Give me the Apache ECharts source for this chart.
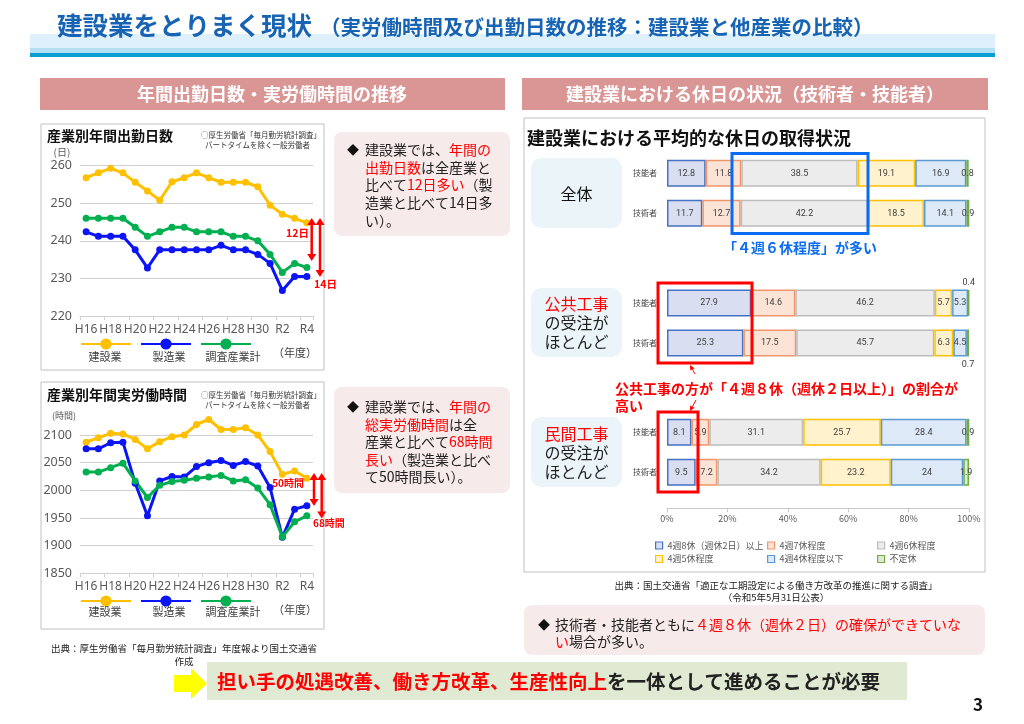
<!DOCTYPE html>
<html><head><meta charset="utf-8">
<script src="https://cdn.jsdelivr.net/npm/echarts@6/dist/echarts.min.js"></script>
<style>html,body{margin:0;padding:0;background:#fff}#c{width:1024px;height:724px}</style>
</head><body><div id="c"></div>
<script>
// ---------- data ----------
const years = ['H16','H17','H18','H19','H20','H21','H22','H23','H24','H25','H26','H27','H28','H29','H30','R1','R2','R3','R4'];
const lineNames = ['建設業','製造業','調査産業計'];
const daysConstruction = [256.8,258.1,259.3,258.1,255.6,253.3,250.8,255.7,256.8,258.1,256.8,255.6,255.6,255.6,254.4,249.5,247.1,246.0,244.8];
const daysManufacturing = [242.4,241.2,241.2,241.2,237.6,232.8,237.6,237.6,237.6,237.6,237.6,238.8,237.6,237.6,236.4,234.0,226.8,230.5,230.5];
const daysAll = [246.0,246.0,246.0,246.0,243.6,241.2,242.4,243.6,243.6,242.4,242.4,242.4,241.2,241.2,240.0,236.4,231.6,234.0,232.9];
const hoursConstruction = [2087,2095,2103,2102,2092,2075,2088,2097,2100,2119,2128,2110,2110,2113,2100,2070,2029,2035,2022];
const hoursManufacturing = [2075,2075,2086,2087,2013,1954,2017,2025,2024,2043,2050,2054,2045,2052,2044,2005,1915,1966,1972];
const hoursAll = [2033,2033,2041,2049,2017,1987,2009,2016,2018,2022,2024,2027,2017,2019,2004,1974,1916,1943,1954];

const holidayCategories = ['4週8休（週休2日）以上','4週7休程度','4週6休程度','4週5休程度','4週4休程度以下','不定休'];
const holidayRows = ['技能者','技術者'];
const allGinou = [12.8,11.8,38.5,19.1,16.9,0.8];
const allGijutsu = [11.7,12.7,42.2,18.5,14.1,0.9];
const publicGinou = [27.9,14.6,46.2,5.7,5.3,0.4];
const publicGijutsu = [25.3,17.5,45.7,6.3,4.5,0.7];
const privateGinou = [8.1,5.9,31.1,25.7,28.4,0.9];
const privateGijutsu = [9.5,7.2,34.2,23.2,24,1.9];

// ---------- styles ----------
const FF = '"Noto Sans CJK JP", "Noto Sans", sans-serif';
const lineColors = ['#ffc000','#0a14f5','#00b050'];
const segFill = ['#d9dff0','#fbe3d6','#ececec','#fff2cc','#dde9f6','#dcecd0'];
const segBorder = ['#4472c4','#f0956a','#bcbcbc','#ffc000','#5b9bd5','#70ad47'];

const chart = echarts.init(document.getElementById('c'), null, {renderer:'canvas'});

function lineSeries(i, data, axis){
  return {type:'line', name: lineNames[i], data, xAxisIndex: axis, yAxisIndex: axis,
    symbol:'circle', symbolSize:7, showSymbol:true, clip:false,
    lineStyle:{color: lineColors[i], width:3}, itemStyle:{color: lineColors[i]}, z:3, animation:false};
}
const series = [
  lineSeries(0, daysConstruction, 0), lineSeries(1, daysManufacturing, 0), lineSeries(2, daysAll, 0),
  lineSeries(0, hoursConstruction, 1), lineSeries(1, hoursManufacturing, 1), lineSeries(2, hoursAll, 1)
];
const groups = [[allGinou, allGijutsu],[publicGinou, publicGijutsu],[privateGinou, privateGijutsu]];
groups.forEach((g, gi) => {
  holidayCategories.forEach((name, s) => {
    let data = [g[0][s], g[1][s]];
    if (gi === 1 && s === 5) {
      data = [{value: g[0][s], label:{position:'top', distance:2}}, {value: g[1][s], label:{position:'bottom', distance:4}}];
    }
    series.push({type:'bar', name, stack:'g'+gi, xAxisIndex: gi+2, yAxisIndex: gi+2, barWidth:27, data,
      itemStyle:{color: segFill[s], borderColor: segBorder[s], borderWidth:1.5},
      label:{show:true, position:'inside', color:'#404040', fontSize:9, fontFamily:'Roboto, sans-serif', textBorderWidth:0},
      emphasis:{disabled:true}, animation:false});
  });
});

const catX = (gi, margin) => ({type:'category', gridIndex: gi, data: years, boundaryGap:true,
  axisLine:{show:true, lineStyle:{color:'#d0d0d0'}}, axisTick:{show:true, length:4, lineStyle:{color:'#d0d0d0'}},
  axisLabel:{interval:1, color:'#595959', fontSize:12, margin, fontFamily:'"Noto Sans", sans-serif'}, splitLine:{show:false}});
const valY = (gi, min, max, interval) => ({type:'value', gridIndex: gi, min, max, interval,
  axisLine:{show:false}, axisTick:{show:false}, splitLine:{show:true, lineStyle:{color:'#d0d0d0', width:1}},
  axisLabel:{color:'#595959', fontSize:12.5, margin:8, fontFamily:'"Noto Sans", sans-serif', formatter: v => String(v)}});
const barX = (gi, show) => ({type:'value', gridIndex: gi, min:0, max:100, interval:20, show,
  offset:16, axisLine:{show:true, lineStyle:{color:'#c8c8c8'}}, axisTick:{show:true, length:4, lineStyle:{color:'#c8c8c8'}},
  axisLabel:{formatter:'{value}%', color:'#595959', fontSize:9, margin:6}, splitLine:{show:false}});
const barY = (gi) => ({type:'category', gridIndex: gi, data: holidayRows, inverse:true,
  axisLine:{show:false}, axisTick:{show:false}, axisLabel:{color:'#404040', fontSize:8, margin:10}});

const legends = [
  {data: lineNames, left:80, top:337, itemWidth:50, itemHeight:14, itemGap:8, padding:0, formatter:()=>'', selectedMode:false},
  {data: lineNames, left:80, top:594, itemWidth:50, itemHeight:14, itemGap:8, padding:0, formatter:()=>'', selectedMode:false}
];
const legPos = [[655,541],[767,541],[877,541],[655,554.5],[767,554.5],[877,554.5]];
holidayCategories.forEach((n, i) => {
  legends.push({data:[{name:n, icon:'rect', itemStyle:{color: segFill[i], borderColor: segBorder[i], borderWidth:1.2}}],
    left: legPos[i][0], top: legPos[i][1], itemWidth:7, itemHeight:7, padding:0, selectedMode:false,
    textStyle:{color:'#595959', fontSize:9}});
});

// ---------- graphics ----------
function T(x, y, text, o){
  o = o || {};
  return {type:'text', z: o.z || 50, style: Object.assign({x, y, text, fill: o.fill || '#222',
    fontSize: o.size || 12, fontFamily: o.family || FF, fontWeight: o.weight || 'normal',
    align: o.align || 'left', verticalAlign: o.va || 'middle', textAlign: o.align || 'left', textVerticalAlign: o.va || 'middle',
    lineHeight: o.lh || undefined, rich: o.rich || undefined}, {})};
}
function R(x, y, w, h, o){
  return {type:'rect', z: o.z || 1, shape:{x, y, width:w, height:h, r: o.r || 0}, style:{fill: o.fill || 'none', stroke: o.stroke || null, lineWidth: o.lw || 1}};
}
function richSet(size, red, weight){
  return {r:{fill: red, fontSize: size, fontFamily: FF, fontWeight: weight || 'normal'},
          k:{fill:'#222', fontSize: size, fontFamily: FF, fontWeight: weight || 'normal'}};
}
function vArrow(x, y1, y2, color){
  const hw = 4.5, hl = 7;
  return [
    {type:'line', z:100, shape:{x1:x, y1:y1+hl-1, x2:x, y2:y2-hl+1}, style:{stroke:color, lineWidth:2.5}},
    {type:'polygon', z:100, shape:{points:[[x,y1],[x-hw,y1+hl],[x+hw,y1+hl]]}, style:{fill:color}},
    {type:'polygon', z:100, shape:{points:[[x,y2],[x-hw,y2-hl],[x+hw,y2-hl]]}, style:{fill:color}}
  ];
}
function thinArrow(x1, y1, x2, y2){
  const a = Math.atan2(y2-y1, x2-x1), L = 5, W = 2.5;
  const bx = x2 - L*Math.cos(a), by = y2 - L*Math.sin(a);
  return [
    {type:'line', z:100, shape:{x1, y1, x2:bx, y2:by}, style:{stroke:'#ff0000', lineWidth:1}},
    {type:'polygon', z:100, shape:{points:[[x2,y2],[bx - W*Math.sin(a), by + W*Math.cos(a)],[bx + W*Math.sin(a), by - W*Math.cos(a)]]}, style:{fill:'#ff0000'}}
  ];
}

const BLUE = '#1764b4', RED = '#ff0000';
const G = [];
// header
G.push(R(30, 34, 965, 14, {fill:'#def0fb'}));
G.push(R(30, 48, 965, 5, {fill:'#b3e0f2'}));
G.push(R(30, 53, 965, 4, {fill:'#0a9fd3'}));
G.push(T(57, 25, '建設業をとりまく現状', {size:25.5, weight:'bold', fill: BLUE}));
G.push(T(320, 27, '（実労働時間及び出勤日数の推移：建設業と他産業の比較）', {size:20.5, weight:'bold', fill: BLUE}));
// section headers
G.push(R(40, 78, 465, 32, {fill:'#d99694'}));
G.push(R(522, 78, 466, 32, {fill:'#d99694'}));
G.push(T(272, 94, '年間出勤日数・実労働時間の推移', {size:18, weight:'bold', fill:'#fff', align:'center'}));
G.push(T(755, 94, '建設業における休日の状況（技術者・技能者）', {size:18, weight:'bold', fill:'#fff', align:'center'}));
// chart boxes
G.push(R(41, 124, 283, 246, {stroke:'#c0c0c0'}));
G.push(R(41, 382, 283, 247, {stroke:'#c0c0c0'}));
G.push(R(524, 118, 461, 454, {stroke:'#c0c0c0'}));
// left chart titles & notes
G.push(T(47, 136, '産業別年間出勤日数', {size:14, weight:'bold', fill:'#111'}));
G.push(T(47, 395, '産業別年間実労働時間', {size:14, weight:'bold', fill:'#111'}));
[[135,145],[395,405]].forEach(([a,b]) => {
  G.push(T(321, a, '○厚生労働省「毎月勤労統計調査」', {size:7.5, fill:'#333', align:'right'}));
  G.push(T(310, b, 'パートタイムを除く一般労働者', {size:7.5, fill:'#333', align:'right'}));
});
G.push(T(62, 152, '(日)', {size:10, fill:'#595959', align:'center'}));
G.push(T(64, 416, '(時間)', {size:9, fill:'#595959', align:'center'}));
// line legends labels
[[356.5,353],[611.5,610]].forEach(([y, yy]) => {
  G.push(T(105, y, '建設業', {size:11, fill:'#404040', align:'center'}));
  G.push(T(169, y, '製造業', {size:11, fill:'#404040', align:'center'}));
  G.push(T(233, y, '調査産業計', {size:11, fill:'#404040', align:'center'}));
  G.push(T(295, yy, '（年度）', {size:11, fill:'#404040', align:'center'}));
});
// difference arrows
vArrow(311.7, 218, 261, RED).forEach(e => G.push(e));
vArrow(320, 218, 277, RED).forEach(e => G.push(e));
G.push(T(309, 233, '12日', {size:10.5, weight:'bold', fill:RED, align:'right'}));
G.push(T(314, 284, '14日', {size:10.5, weight:'bold', fill:RED}));
vArrow(314, 473, 506, RED).forEach(e => G.push(e));
vArrow(321.7, 473, 518.5, RED).forEach(e => G.push(e));
G.push(T(304, 483, '50時間', {size:10, weight:'bold', fill:RED, align:'right'}));
G.push(T(313, 523, '68時間', {size:10, weight:'bold', fill:RED}));
// left text boxes
G.push(R(334, 132, 176, 104, {fill:'#f7eaea', r:8}));
G.push(R(334, 387, 176, 106, {fill:'#f7eaea', r:8}));
G.push(T(347, 150, '◆', {size:12, fill:'#111'}));
G.push(T(347, 407, '◆', {size:12, fill:'#111'}));
G.push(T(365, 185, '{k|建設業では、}{r|年間の}\n{r|出勤日数}{k|は全産業と}\n{k|比べて}{r|12日多い}{k|（製}\n{k|造業と比べて14日多}\n{k|い）。}',
  {size:14, lh:17.6, rich: richSet(14, RED)}));
G.push(T(365, 441.8, '{k|建設業では、}{r|年間の}\n{r|総実労働時間}{k|は全}\n{k|産業と比べて}{r|68時間}\n{r|長い}{k|（製造業と比べ}\n{k|て50時間長い）。}',
  {size:14, lh:17.6, rich: richSet(14, RED)}));
// left source
G.push(T(184, 648, '出典：厚生労働省「毎月勤労統計調査」年度報より国土交通省', {size:9.5, fill:'#222', align:'center'}));
G.push(T(184, 661, '作成', {size:9.5, fill:'#222', align:'center'}));
// right chart title and group labels
G.push(T(527, 138, '建設業における平均的な休日の取得状況', {size:18, weight:'bold', fill:'#111'}));
G.push(R(531, 158, 91, 70, {fill:'#eaf4f9', r:10}));
G.push(R(531, 288, 91, 69, {fill:'#eaf4f9', r:10}));
G.push(R(531, 417, 91, 70, {fill:'#eaf4f9', r:10}));
G.push(T(576.5, 194, '全体', {size:16, fill:'#111', align:'center'}));
G.push(T(576.5, 322.5, '{r|公共工事}\n{k|の受注が}\n{k|ほとんど}', {size:16, lh:19, align:'center', rich: richSet(16, RED)}));
G.push(T(576.5, 452.5, '{r|民間工事}\n{k|の受注が}\n{k|ほとんど}', {size:16, lh:19, align:'center', rich: richSet(16, RED)}));
// highlight boxes
G.push(R(732, 153.5, 136, 80, {stroke:'#0a6cf0', lw:3, z:100}));
G.push(R(658, 283, 94, 80, {stroke:RED, lw:3, z:100}));
G.push(R(658, 412, 40, 80, {stroke:RED, lw:3, z:100}));
G.push(T(723, 248, '「４週６休程度」が多い', {size:14, weight:'bold', fill:'#0a6cf0'}));
G.push(T(615, 388.5, '公共工事の方が「４週８休（週休２日以上）」の割合が', {size:14, weight:'bold', fill:RED}));
G.push(T(615, 406, '高い', {size:14, weight:'bold', fill:RED}));
thinArrow(695, 374, 690, 365).forEach(e => G.push(e));
thinArrow(696, 400, 690, 411).forEach(e => G.push(e));
// right source
G.push(T(776, 585, '出典：国土交通省「適正な工期設定による働き方改革の推進に関する調査」', {size:9.5, fill:'#222', align:'center'}));
G.push(T(776, 597.5, '（令和5年5月31日公表）', {size:9.5, fill:'#222', align:'center'}));
// right bottom box
G.push(R(524, 605, 461, 50, {fill:'#f7eaea', r:8}));
G.push(T(538, 625, '◆', {size:12, fill:'#111'}));
G.push(T(555, 633.5, '{k|技術者・技能者ともに}{r|４週８休（週休２日）の確保ができていな}\n{r|い}{k|場合が多い。}', {size:14, lh:17, rich: richSet(14, RED)}));
// conclusion bar
G.push(R(207, 662, 700, 38, {fill:'#e0e9d1'}));
G.push({type:'polygon', z:5, shape:{points:[[174,675],[191,675],[191,668],[207,683.5],[191,699],[191,692],[174,692]]}, style:{fill:'#ffff00'}});
G.push(T(217, 682, '{r|担い手の処遇改善、働き方改革、生産性向上}{k|を一体として進めることが必要}', {size:19.5, weight:'bold', rich: richSet(19.5, RED, 'bold')}));
G.push(T(978, 705, '3', {size:17, weight:'bold', fill:'#111', align:'center'}));

chart.setOption({
  animation:false,
  backgroundColor:'#ffffff',
  textStyle:{fontFamily: FF},
  grid:[
    {left:80, top:165.7, width:233, height:150.3},
    {left:80, top:435, width:233, height:138.3},
    {left:667, top:153.3, width:302, height:80},
    {left:667, top:283, width:302, height:80},
    {left:667, top:412.3, width:302, height:80}
  ],
  xAxis:[catX(0,8), catX(1,7.5), barX(2,false), barX(3,false), barX(4,true)],
  yAxis:[valY(0,220,260,10), valY(1,1850,2100,50), barY(2), barY(3), barY(4)],
  legend: legends,
  series,
  graphic:{elements: G}
});
</script></body></html>
